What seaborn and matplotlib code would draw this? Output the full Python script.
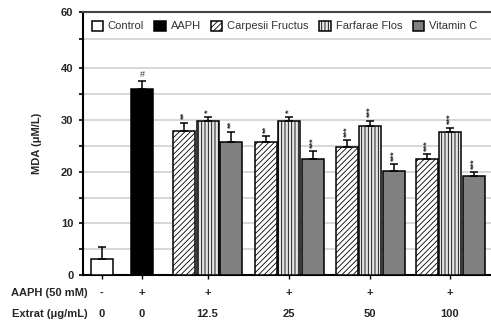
import numpy as np
import pandas as pd
import matplotlib
matplotlib.use("Agg")
import matplotlib.pyplot as plt
import seaborn as sns
from matplotlib.patches import Patch
from matplotlib.ticker import FixedLocator

# data
series = ["Control", "AAPH", "Carpesii Fructus", "Farfarae Flos", "Vitamin C"]
doses = ["12.5", "25", "50", "100"]

control_mda, control_err = 3.1, 2.3
aaph_mda, aaph_err = 36.0, 1.4

cf_mda = [27.9, 25.7, 24.7, 22.4]
cf_err = [1.5, 1.1, 1.4, 1.0]
ff_mda = [29.8, 29.8, 28.8, 27.7]
ff_err = [0.8, 0.8, 1.0, 0.8]
vc_mda = [25.7, 22.4, 20.2, 19.2]
vc_err = [2.0, 1.5, 1.2, 0.7]

cf_sig = ["**", "**", "***", "***"]
ff_sig = ["*", "*", "***", "***"]
vc_sig = ["**", "***", "***", "***"]

aaph_row = ["-", "+", "+", "+", "+", "+"]
extrat_row = ["0", "0", "12.5", "25", "50", "100"]

# layout (axis units are arbitrary, ticks hidden)
group_x = [102, 142, 207.5, 289, 370, 450]
step = 23.5
bar_w = 22

rows = [("Control", group_x[0], control_mda, control_err, ""),
        ("AAPH", group_x[1], aaph_mda, aaph_err, "#")]
for i, c in enumerate(group_x[2:]):
    rows.append(("Carpesii Fructus", c - step, cf_mda[i], cf_err[i], cf_sig[i]))
    rows.append(("Farfarae Flos", c, ff_mda[i], ff_err[i], ff_sig[i]))
    rows.append(("Vitamin C", c + step, vc_mda[i], vc_err[i], vc_sig[i]))
df = pd.DataFrame(rows, columns=["series", "pos", "mda", "err", "sig"])

colors = {"Control": "white", "AAPH": "black", "Carpesii Fructus": "white",
          "Farfarae Flos": "#e6e6e6", "Vitamin C": "#808080"}
hatches = {"Control": "", "AAPH": "", "Carpesii Fructus": "//////",
           "Farfarae Flos": "|||||", "Vitamin C": ""}

sns.set_style("white")
plt.rcParams["font.family"] = ["Liberation Sans", "DejaVu Sans"]
plt.rcParams["hatch.linewidth"] = 0.6
fs = 8

fig = plt.figure(figsize=(4.91, 3.25), dpi=100)
ax = fig.add_axes([83 / 491, (325 - 275.3) / 325, 408 / 491, 263.3 / 325])

sns.barplot(data=df, x="pos", y="mda", hue="series", hue_order=series,
            palette=colors, native_scale=True, dodge=False,
            width=bar_w / step, errorbar=None, edgecolor="black",
            linewidth=1.1, legend=False, zorder=3, ax=ax)

for cont, s in zip(ax.containers, series):
    for p in cont.patches:
        p.set_hatch(hatches[s])

ax.errorbar(df["pos"], df["mda"], yerr=[np.zeros(len(df)), df["err"]],
            fmt="none", ecolor="black", elinewidth=1.1, capsize=3,
            capthick=1.1, zorder=4)

for _, r in df.iterrows():
    if r["sig"] == "#":
        ax.annotate("#", (r["pos"], r["mda"] + r["err"]), xytext=(0, 2),
                    textcoords="offset points", ha="center", va="bottom",
                    fontsize=6.5, color="#333333")
    elif r["sig"]:
        ax.annotate(r["sig"], (r["pos"], r["mda"] + r["err"]), xytext=(0, 2.5),
                    textcoords="offset points", ha="center", va="bottom",
                    rotation=90, fontsize=6.5, fontweight="bold",
                    color="#333333")

ax.set_xlim(83, 491)
ax.set_ylim(0, 50.8)
ax.yaxis.set_major_locator(FixedLocator([0, 10, 20, 30, 40, 50.8]))
ax.set_yticklabels(["0", "10", "20", "30", "40", "60"])
ax.yaxis.set_minor_locator(FixedLocator([5, 15, 25, 35, 45.5]))
ax.grid(True, axis="y", which="both", color="#d4d4d4", linewidth=1.3, zorder=0)
ax.set_axisbelow(True)

ax.set_xticks(group_x)
ax.set_xticklabels([])
ax.tick_params(axis="x", direction="out", length=3, width=1, color="black",
               bottom=True)
ax.tick_params(axis="y", which="both", direction="out", length=3, width=1.2,
               color="black", left=True, labelsize=fs, pad=4)
for t in ax.get_yticklabels():
    t.set_fontweight("bold")

ax.set_xlabel("")
ax.set_ylabel("MDA (\u03bcM/L)", fontsize=fs, fontweight="bold")
ax.yaxis.set_label_coords(-0.10, 0.5)

for side in ["left", "bottom"]:
    ax.spines[side].set_color("black")
    ax.spines[side].set_linewidth(1.5)
ax.spines["top"].set_color("#444444")
ax.spines["top"].set_linewidth(1.5)
ax.spines["right"].set_visible(False)

# two rows of x labels
xt = ax.get_xaxis_transform()
for x, a, e in zip(group_x, aaph_row, extrat_row):
    ax.text(x, -0.066, a, transform=xt, ha="center", va="center",
            fontsize=fs, fontweight="bold")
    ax.text(x, -0.148, e, transform=xt, ha="center", va="center",
            fontsize=fs, fontweight="bold")
ax.text(88, -0.066, "AAPH (50 mM)", transform=xt, ha="right", va="center",
        fontsize=fs, fontweight="bold")
ax.text(88, -0.148, "Extrat (\u03bcg/mL)", transform=xt, ha="right",
        va="center", fontsize=fs, fontweight="bold")

handles = [Patch(facecolor=colors[s], edgecolor="black", hatch=hatches[s],
                 linewidth=1.1) for s in series]
leg = ax.legend(handles, series, loc="center left", ncol=5,
                bbox_to_anchor=(0.010, 0.947), frameon=False, fontsize=fs,
                handlelength=1.0, handleheight=1.0, handletextpad=0.45,
                columnspacing=0.95, borderaxespad=0)
for t in leg.get_texts():
    t.set_color("#333333")

fig.savefig("out.png", dpi=100, facecolor="white")
